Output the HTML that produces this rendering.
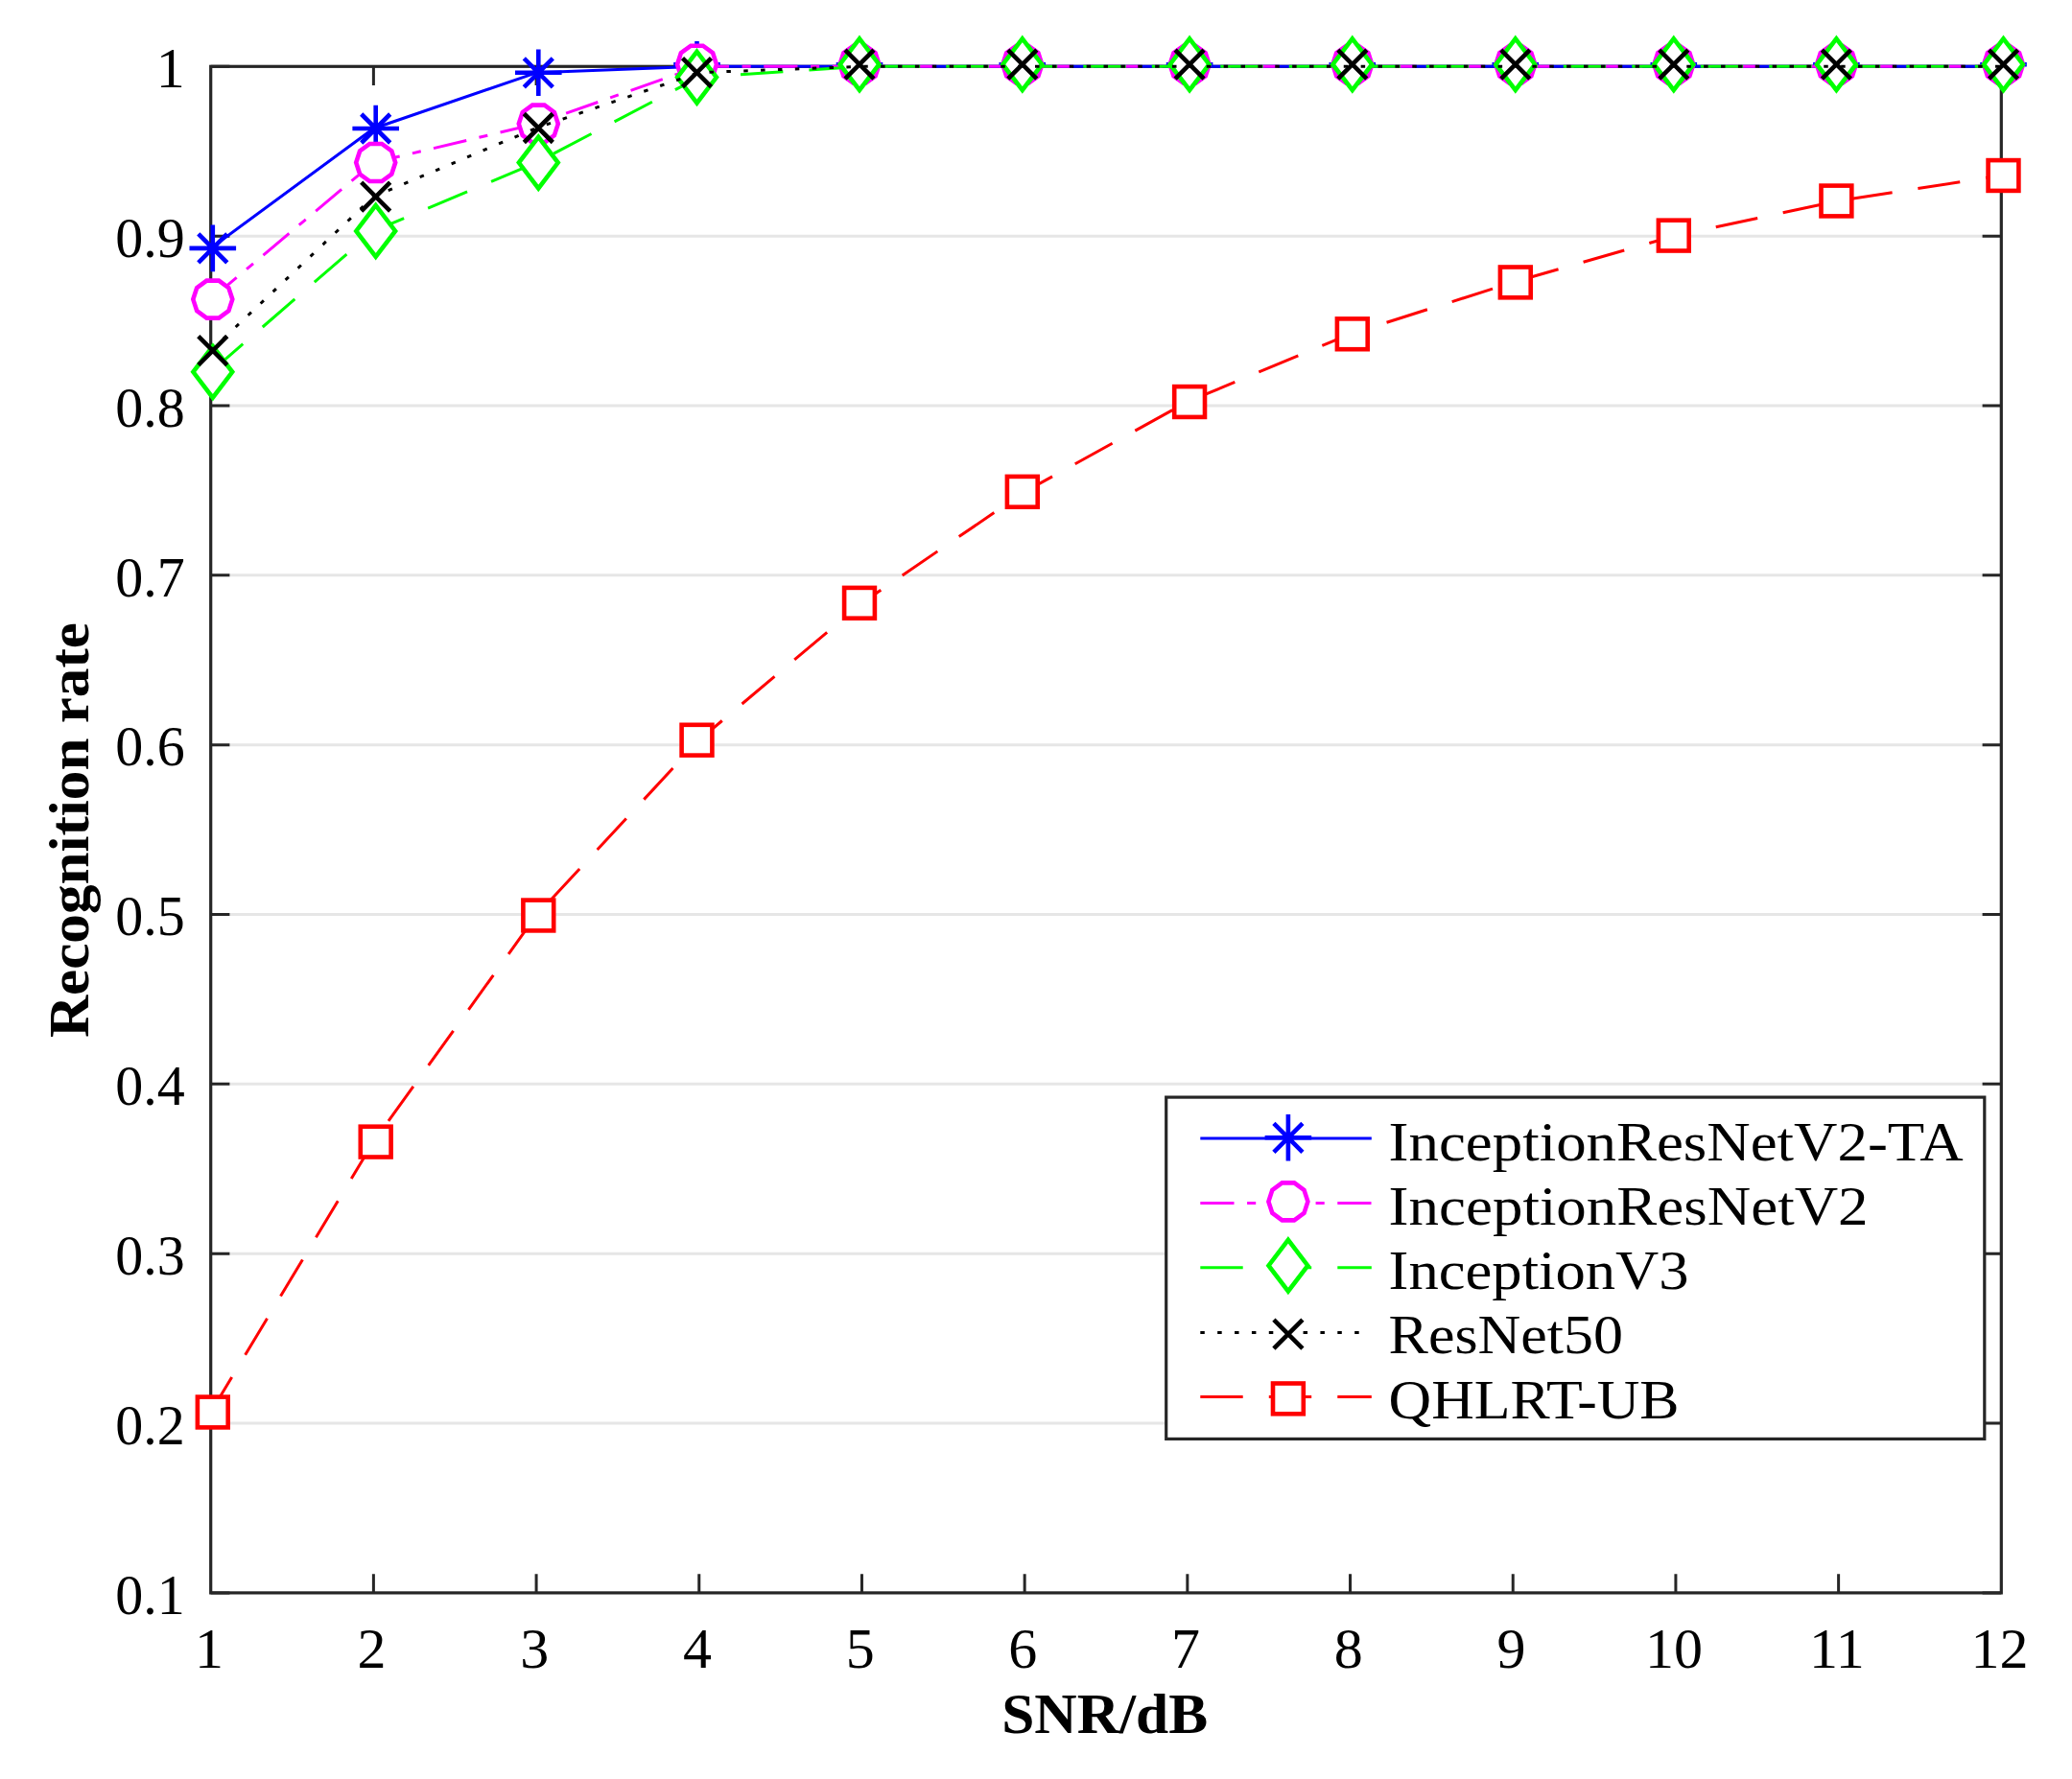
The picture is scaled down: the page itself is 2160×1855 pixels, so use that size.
<!DOCTYPE html>
<html lang="en"><head><meta charset="utf-8"><title>Recognition rate vs SNR</title>
<style>html,body{margin:0;padding:0;background:#fff}body{width:2160px;height:1855px;overflow:hidden}svg{display:block}text{font-family:"Liberation Serif","DejaVu Serif",serif;fill:#000}</style></head><body>
<svg width="2160" height="1855" viewBox="0 0 2160 1855">
<rect width="2160" height="1855" fill="#fff"/>
<g stroke="#e6e6e6" stroke-width="3">
<line x1="219.7" y1="246.14" x2="2086.3" y2="246.14"/>
<line x1="219.7" y1="422.99" x2="2086.3" y2="422.99"/>
<line x1="219.7" y1="599.83" x2="2086.3" y2="599.83"/>
<line x1="219.7" y1="776.68" x2="2086.3" y2="776.68"/>
<line x1="219.7" y1="953.52" x2="2086.3" y2="953.52"/>
<line x1="219.7" y1="1130.37" x2="2086.3" y2="1130.37"/>
<line x1="219.7" y1="1307.21" x2="2086.3" y2="1307.21"/>
<line x1="219.7" y1="1484.06" x2="2086.3" y2="1484.06"/>
</g>
<g stroke="#262626" stroke-width="3.2" fill="none">
<rect x="219.7" y="69.3" width="1866.6" height="1591.6"/>
<path stroke-width="3" d="M389.39 69.3v19.7M389.39 1660.9v-19.7M559.08 69.3v19.7M559.08 1660.9v-19.7M728.77 69.3v19.7M728.77 1660.9v-19.7M898.46 69.3v19.7M898.46 1660.9v-19.7M1068.15 69.3v19.7M1068.15 1660.9v-19.7M1237.85 69.3v19.7M1237.85 1660.9v-19.7M1407.54 69.3v19.7M1407.54 1660.9v-19.7M1577.23 69.3v19.7M1577.23 1660.9v-19.7M1746.92 69.3v19.7M1746.92 1660.9v-19.7M1916.61 69.3v19.7M1916.61 1660.9v-19.7M219.7 69.3h19.7M2086.3 69.3h-19.7M219.7 246.14h19.7M2086.3 246.14h-19.7M219.7 422.99h19.7M2086.3 422.99h-19.7M219.7 599.83h19.7M2086.3 599.83h-19.7M219.7 776.68h19.7M2086.3 776.68h-19.7M219.7 953.52h19.7M2086.3 953.52h-19.7M219.7 1130.37h19.7M2086.3 1130.37h-19.7M219.7 1307.21h19.7M2086.3 1307.21h-19.7M219.7 1484.06h19.7M2086.3 1484.06h-19.7M219.7 1660.9h19.7M2086.3 1660.9h-19.7"/>
</g>
<g font-size="60">
<text x="217.9" y="1738.5" text-anchor="middle">1</text>
<text x="387.59" y="1738.5" text-anchor="middle">2</text>
<text x="557.28" y="1738.5" text-anchor="middle">3</text>
<text x="726.97" y="1738.5" text-anchor="middle">4</text>
<text x="896.66" y="1738.5" text-anchor="middle">5</text>
<text x="1066.35" y="1738.5" text-anchor="middle">6</text>
<text x="1236.05" y="1738.5" text-anchor="middle">7</text>
<text x="1405.74" y="1738.5" text-anchor="middle">8</text>
<text x="1575.43" y="1738.5" text-anchor="middle">9</text>
<text x="1745.12" y="1738.5" text-anchor="middle">10</text>
<text x="1914.81" y="1738.5" text-anchor="middle">11</text>
<text x="2084.5" y="1738.5" text-anchor="middle">12</text>
<text x="192.7" y="91" text-anchor="end">1</text>
<text x="192.7" y="267.84" text-anchor="end" textLength="72.5" lengthAdjust="spacingAndGlyphs">0.9</text>
<text x="192.7" y="444.69" text-anchor="end" textLength="72.5" lengthAdjust="spacingAndGlyphs">0.8</text>
<text x="192.7" y="621.53" text-anchor="end" textLength="72.5" lengthAdjust="spacingAndGlyphs">0.7</text>
<text x="192.7" y="798.38" text-anchor="end" textLength="72.5" lengthAdjust="spacingAndGlyphs">0.6</text>
<text x="192.7" y="975.22" text-anchor="end" textLength="72.5" lengthAdjust="spacingAndGlyphs">0.5</text>
<text x="192.7" y="1152.07" text-anchor="end" textLength="72.5" lengthAdjust="spacingAndGlyphs">0.4</text>
<text x="192.7" y="1328.91" text-anchor="end" textLength="72.5" lengthAdjust="spacingAndGlyphs">0.3</text>
<text x="192.7" y="1505.76" text-anchor="end" textLength="72.5" lengthAdjust="spacingAndGlyphs">0.2</text>
<text x="192.7" y="1682.6" text-anchor="end" textLength="72.5" lengthAdjust="spacingAndGlyphs">0.1</text>
</g>
<text x="1151.7" y="1807.2" font-size="60" font-weight="bold" text-anchor="middle" textLength="215" lengthAdjust="spacingAndGlyphs">SNR/dB</text>
<text transform="translate(92.4 865.6) rotate(-90)" font-size="60" font-weight="bold" text-anchor="middle" textLength="433" lengthAdjust="spacingAndGlyphs">Recognition rate</text>
<g stroke-linecap="butt">
<polyline points="219.7,258.9 389.39,134 559.08,75.8 728.77,69.3 898.46,69.3 1068.15,69.3 1237.85,69.3 1407.54,69.3 1577.23,69.3 1746.92,69.3 1916.61,69.3 2086.3,69.3" stroke="#0000ff" stroke-width="3.0" fill="none" stroke-linejoin="round"/>
<path d="M221.8 234.6V283.2M197.5 258.9H246.1M206.8 243.9L236.8 273.9M206.8 273.9L236.8 243.9" stroke="#0000ff" stroke-width="4.6" fill="none"/>
<path d="M391.7 109.7V158.3M367.4 134H416M376.7 119L406.7 149M376.7 149L406.7 119" stroke="#0000ff" stroke-width="4.6" fill="none"/>
<path d="M561.3 51.5V100.1M537 75.8H585.6M546.3 60.8L576.3 90.8M546.3 90.8L576.3 60.8" stroke="#0000ff" stroke-width="4.6" fill="none"/>
<path d="M726.5 42.9V91.5M702.2 67.2H750.8M711.5 52.2L741.5 82.2M711.5 82.2L741.5 52.2" stroke="#0000ff" stroke-width="4.6" fill="none"/>
<path d="M896 42.9V91.5M871.7 67.2H920.3M881 52.2L911 82.2M881 82.2L911 52.2" stroke="#0000ff" stroke-width="4.6" fill="none"/>
<path d="M1065.8 42.9V91.5M1041.5 67.2H1090.1M1050.8 52.2L1080.8 82.2M1050.8 82.2L1080.8 52.2" stroke="#0000ff" stroke-width="4.6" fill="none"/>
<path d="M1240.1 42.9V91.5M1215.8 67.2H1264.4M1225.1 52.2L1255.1 82.2M1225.1 82.2L1255.1 52.2" stroke="#0000ff" stroke-width="4.6" fill="none"/>
<path d="M1409.8 42.9V91.5M1385.5 67.2H1434.1M1394.8 52.2L1424.8 82.2M1394.8 82.2L1424.8 52.2" stroke="#0000ff" stroke-width="4.6" fill="none"/>
<path d="M1579.8 42.9V91.5M1555.5 67.2H1604.1M1564.8 52.2L1594.8 82.2M1564.8 82.2L1594.8 52.2" stroke="#0000ff" stroke-width="4.6" fill="none"/>
<path d="M1744.8 42.9V91.5M1720.5 67.2H1769.1M1729.8 52.2L1759.8 82.2M1729.8 82.2L1759.8 52.2" stroke="#0000ff" stroke-width="4.6" fill="none"/>
<path d="M1914.4 42.9V91.5M1890.1 67.2H1938.7M1899.4 52.2L1929.4 82.2M1899.4 82.2L1929.4 52.2" stroke="#0000ff" stroke-width="4.6" fill="none"/>
<path d="M2088.5 42.9V91.5M2064.2 67.2H2112.8M2073.5 52.2L2103.5 82.2M2073.5 82.2L2103.5 52.2" stroke="#0000ff" stroke-width="4.6" fill="none"/>
<polyline points="219.7,312.1 389.39,169.5 559.08,129.1 728.77,69.3 898.46,69.3 1068.15,69.3 1237.85,69.3 1407.54,69.3 1577.23,69.3 1746.92,69.3 1916.61,69.3 2086.3,69.3" stroke="#ff00ff" stroke-width="3.0" fill="none" stroke-linejoin="round" stroke-dasharray="35.2 13.6 9.1 13.6" stroke-dashoffset="0"/>
<polygon points="242.3,312.1 238.38,324.15 228.13,331.6 215.47,331.6 205.22,324.15 201.3,312.1 205.22,300.05 215.47,292.6 228.13,292.6 238.38,300.05" stroke="#ff00ff" stroke-width="4.6" fill="#fff" stroke-linejoin="miter"/>
<polygon points="412.2,169.5 408.28,181.55 398.03,189 385.37,189 375.12,181.55 371.2,169.5 375.12,157.45 385.37,150 398.03,150 408.28,157.45" stroke="#ff00ff" stroke-width="4.6" fill="#fff" stroke-linejoin="miter"/>
<polygon points="581.8,129.1 577.88,141.15 567.63,148.6 554.97,148.6 544.72,141.15 540.8,129.1 544.72,117.05 554.97,109.6 567.63,109.6 577.88,117.05" stroke="#ff00ff" stroke-width="4.6" fill="#fff" stroke-linejoin="miter"/>
<polygon points="747,67.2 743.08,79.25 732.83,86.7 720.17,86.7 709.92,79.25 706,67.2 709.92,55.15 720.17,47.7 732.83,47.7 743.08,55.15" stroke="#ff00ff" stroke-width="4.6" fill="#fff" stroke-linejoin="miter"/>
<polygon points="916.5,67.2 912.58,79.25 902.33,86.7 889.67,86.7 879.42,79.25 875.5,67.2 879.42,55.15 889.67,47.7 902.33,47.7 912.58,55.15" stroke="#ff00ff" stroke-width="4.6" fill="#fff" stroke-linejoin="miter"/>
<polygon points="1086.3,67.2 1082.38,79.25 1072.13,86.7 1059.47,86.7 1049.22,79.25 1045.3,67.2 1049.22,55.15 1059.47,47.7 1072.13,47.7 1082.38,55.15" stroke="#ff00ff" stroke-width="4.6" fill="#fff" stroke-linejoin="miter"/>
<polygon points="1260.6,67.2 1256.68,79.25 1246.43,86.7 1233.77,86.7 1223.52,79.25 1219.6,67.2 1223.52,55.15 1233.77,47.7 1246.43,47.7 1256.68,55.15" stroke="#ff00ff" stroke-width="4.6" fill="#fff" stroke-linejoin="miter"/>
<polygon points="1430.3,67.2 1426.38,79.25 1416.13,86.7 1403.47,86.7 1393.22,79.25 1389.3,67.2 1393.22,55.15 1403.47,47.7 1416.13,47.7 1426.38,55.15" stroke="#ff00ff" stroke-width="4.6" fill="#fff" stroke-linejoin="miter"/>
<polygon points="1600.3,67.2 1596.38,79.25 1586.13,86.7 1573.47,86.7 1563.22,79.25 1559.3,67.2 1563.22,55.15 1573.47,47.7 1586.13,47.7 1596.38,55.15" stroke="#ff00ff" stroke-width="4.6" fill="#fff" stroke-linejoin="miter"/>
<polygon points="1765.3,67.2 1761.38,79.25 1751.13,86.7 1738.47,86.7 1728.22,79.25 1724.3,67.2 1728.22,55.15 1738.47,47.7 1751.13,47.7 1761.38,55.15" stroke="#ff00ff" stroke-width="4.6" fill="#fff" stroke-linejoin="miter"/>
<polygon points="1934.9,67.2 1930.98,79.25 1920.73,86.7 1908.07,86.7 1897.82,79.25 1893.9,67.2 1897.82,55.15 1908.07,47.7 1920.73,47.7 1930.98,55.15" stroke="#ff00ff" stroke-width="4.6" fill="#fff" stroke-linejoin="miter"/>
<polygon points="2109,67.2 2105.08,79.25 2094.83,86.7 2082.17,86.7 2071.92,79.25 2068,67.2 2071.92,55.15 2082.17,47.7 2094.83,47.7 2105.08,55.15" stroke="#ff00ff" stroke-width="4.6" fill="#fff" stroke-linejoin="miter"/>
<polyline points="219.7,387.8 389.39,240.9 559.08,169.6 728.77,80.6 898.46,69.3 1068.15,69.3 1237.85,69.3 1407.54,69.3 1577.23,69.3 1746.92,69.3 1916.61,69.3 2086.3,69.3" stroke="#00ff00" stroke-width="3.0" fill="none" stroke-linejoin="round" stroke-dasharray="44.4 27.1" stroke-dashoffset="0"/>
<polygon points="221.8,361 242.2,387.8 221.8,414.6 201.4,387.8" stroke="#00ff00" stroke-width="4.6" fill="#fff" stroke-linejoin="miter" stroke-miterlimit="10"/>
<polygon points="391.7,214.1 412.1,240.9 391.7,267.7 371.3,240.9" stroke="#00ff00" stroke-width="4.6" fill="#fff" stroke-linejoin="miter" stroke-miterlimit="10"/>
<polygon points="561.3,142.8 581.7,169.6 561.3,196.4 540.9,169.6" stroke="#00ff00" stroke-width="4.6" fill="#fff" stroke-linejoin="miter" stroke-miterlimit="10"/>
<polygon points="726.5,53.8 746.9,80.6 726.5,107.4 706.1,80.6" stroke="#00ff00" stroke-width="4.6" fill="#fff" stroke-linejoin="miter" stroke-miterlimit="10"/>
<polygon points="896,40.4 916.4,67.2 896,94 875.6,67.2" stroke="#00ff00" stroke-width="4.6" fill="#fff" stroke-linejoin="miter" stroke-miterlimit="10"/>
<polygon points="1065.8,40.4 1086.2,67.2 1065.8,94 1045.4,67.2" stroke="#00ff00" stroke-width="4.6" fill="#fff" stroke-linejoin="miter" stroke-miterlimit="10"/>
<polygon points="1240.1,40.4 1260.5,67.2 1240.1,94 1219.7,67.2" stroke="#00ff00" stroke-width="4.6" fill="#fff" stroke-linejoin="miter" stroke-miterlimit="10"/>
<polygon points="1409.8,40.4 1430.2,67.2 1409.8,94 1389.4,67.2" stroke="#00ff00" stroke-width="4.6" fill="#fff" stroke-linejoin="miter" stroke-miterlimit="10"/>
<polygon points="1579.8,40.4 1600.2,67.2 1579.8,94 1559.4,67.2" stroke="#00ff00" stroke-width="4.6" fill="#fff" stroke-linejoin="miter" stroke-miterlimit="10"/>
<polygon points="1744.8,40.4 1765.2,67.2 1744.8,94 1724.4,67.2" stroke="#00ff00" stroke-width="4.6" fill="#fff" stroke-linejoin="miter" stroke-miterlimit="10"/>
<polygon points="1914.4,40.4 1934.8,67.2 1914.4,94 1894,67.2" stroke="#00ff00" stroke-width="4.6" fill="#fff" stroke-linejoin="miter" stroke-miterlimit="10"/>
<polygon points="2088.5,40.4 2108.9,67.2 2088.5,94 2068.1,67.2" stroke="#00ff00" stroke-width="4.6" fill="#fff" stroke-linejoin="miter" stroke-miterlimit="10"/>
<polyline points="219.7,365.6 389.39,205.1 559.08,133.5 728.77,75.7 898.46,69.3 1068.15,69.3 1237.85,69.3 1407.54,69.3 1577.23,69.3 1746.92,69.3 1916.61,69.3 2086.3,69.3" stroke="#000000" stroke-width="3.0" fill="none" stroke-linejoin="round" stroke-dasharray="4.5 13.375" stroke-dashoffset="0"/>
<path d="M206.8 350.6L236.8 380.6M206.8 380.6L236.8 350.6" stroke="#000000" stroke-width="4.6" fill="none"/>
<path d="M376.7 190.1L406.7 220.1M376.7 220.1L406.7 190.1" stroke="#000000" stroke-width="4.6" fill="none"/>
<path d="M546.3 118.5L576.3 148.5M546.3 148.5L576.3 118.5" stroke="#000000" stroke-width="4.6" fill="none"/>
<path d="M711.5 60.7L741.5 90.7M711.5 90.7L741.5 60.7" stroke="#000000" stroke-width="4.6" fill="none"/>
<path d="M881 52.2L911 82.2M881 82.2L911 52.2" stroke="#000000" stroke-width="4.6" fill="none"/>
<path d="M1050.8 52.2L1080.8 82.2M1050.8 82.2L1080.8 52.2" stroke="#000000" stroke-width="4.6" fill="none"/>
<path d="M1225.1 52.2L1255.1 82.2M1225.1 82.2L1255.1 52.2" stroke="#000000" stroke-width="4.6" fill="none"/>
<path d="M1394.8 52.2L1424.8 82.2M1394.8 82.2L1424.8 52.2" stroke="#000000" stroke-width="4.6" fill="none"/>
<path d="M1564.8 52.2L1594.8 82.2M1564.8 82.2L1594.8 52.2" stroke="#000000" stroke-width="4.6" fill="none"/>
<path d="M1729.8 52.2L1759.8 82.2M1729.8 82.2L1759.8 52.2" stroke="#000000" stroke-width="4.6" fill="none"/>
<path d="M1899.4 52.2L1929.4 82.2M1899.4 82.2L1929.4 52.2" stroke="#000000" stroke-width="4.6" fill="none"/>
<path d="M2073.5 52.2L2103.5 82.2M2073.5 82.2L2103.5 52.2" stroke="#000000" stroke-width="4.6" fill="none"/>
<polyline points="219.7,1472.5 389.39,1190.6 559.08,954.5 728.77,771.7 898.46,628.8 1068.15,512.8 1237.85,419 1407.54,348.3 1577.23,294.4 1746.92,245.6 1916.61,209.5 2086.3,183" stroke="#ff0000" stroke-width="3.0" fill="none" stroke-linejoin="round" stroke-dasharray="44.4 27.1" stroke-dashoffset="1.8"/>
<rect x="205.9" y="1456.6" width="31.8" height="31.8" stroke="#ff0000" stroke-width="4.6" fill="#fff"/>
<rect x="375.8" y="1174.7" width="31.8" height="31.8" stroke="#ff0000" stroke-width="4.6" fill="#fff"/>
<rect x="545.4" y="938.6" width="31.8" height="31.8" stroke="#ff0000" stroke-width="4.6" fill="#fff"/>
<rect x="710.6" y="755.8" width="31.8" height="31.8" stroke="#ff0000" stroke-width="4.6" fill="#fff"/>
<rect x="880.1" y="612.9" width="31.8" height="31.8" stroke="#ff0000" stroke-width="4.6" fill="#fff"/>
<rect x="1049.9" y="496.9" width="31.8" height="31.8" stroke="#ff0000" stroke-width="4.6" fill="#fff"/>
<rect x="1224.2" y="403.1" width="31.8" height="31.8" stroke="#ff0000" stroke-width="4.6" fill="#fff"/>
<rect x="1393.9" y="332.4" width="31.8" height="31.8" stroke="#ff0000" stroke-width="4.6" fill="#fff"/>
<rect x="1563.9" y="278.5" width="31.8" height="31.8" stroke="#ff0000" stroke-width="4.6" fill="#fff"/>
<rect x="1728.9" y="229.7" width="31.8" height="31.8" stroke="#ff0000" stroke-width="4.6" fill="#fff"/>
<rect x="1898.5" y="193.6" width="31.8" height="31.8" stroke="#ff0000" stroke-width="4.6" fill="#fff"/>
<rect x="2072.6" y="167.1" width="31.8" height="31.8" stroke="#ff0000" stroke-width="4.6" fill="#fff"/>
</g>
<rect x="1215.7" y="1144.1" width="853.1" height="356.3" fill="#fff" stroke="#262626" stroke-width="3.2"/>
<line x1="1251.3" y1="1187.1" x2="1429.8" y2="1187.1" stroke="#0000ff" stroke-width="3.0"/>
<path d="M1342.9 1162V1210.6M1318.6 1186.3H1367.2M1327.9 1171.3L1357.9 1201.3M1327.9 1201.3L1357.9 1171.3" stroke="#0000ff" stroke-width="4.6" fill="none"/>
<line x1="1251.3" y1="1254.5" x2="1429.8" y2="1254.5" stroke="#ff00ff" stroke-width="3.0" stroke-dasharray="35.2 13.6 9.1 13.6"/>
<polygon points="1363.4,1252.9 1359.48,1264.95 1349.23,1272.4 1336.57,1272.4 1326.32,1264.95 1322.4,1252.9 1326.32,1240.85 1336.57,1233.4 1349.23,1233.4 1359.48,1240.85" stroke="#ff00ff" stroke-width="4.6" fill="#fff" stroke-linejoin="miter"/>
<line x1="1251.3" y1="1321.8" x2="1429.8" y2="1321.8" stroke="#00ff00" stroke-width="3.0" stroke-dasharray="44.4 27.1"/>
<polygon points="1342.9,1292.9 1363.3,1319.7 1342.9,1346.5 1322.5,1319.7" stroke="#00ff00" stroke-width="4.6" fill="#fff" stroke-linejoin="miter" stroke-miterlimit="10"/>
<line x1="1251.3" y1="1389.5" x2="1429.8" y2="1389.5" stroke="#000000" stroke-width="3.0" stroke-dasharray="4.5 13.375"/>
<path d="M1327.9 1376.2L1357.9 1406.2M1327.9 1406.2L1357.9 1376.2" stroke="#000000" stroke-width="4.6" fill="none"/>
<line x1="1251.3" y1="1456.4" x2="1429.8" y2="1456.4" stroke="#ff0000" stroke-width="3.0" stroke-dasharray="44.4 27.1"/>
<rect x="1327" y="1442.5" width="31.8" height="31.8" stroke="#ff0000" stroke-width="4.6" fill="#fff"/>
<g font-size="58">
<text x="1447.6" y="1209.8" textLength="599" lengthAdjust="spacingAndGlyphs">InceptionResNetV2-TA</text>
<text x="1447.6" y="1277" textLength="500" lengthAdjust="spacingAndGlyphs">InceptionResNetV2</text>
<text x="1447.6" y="1344.2" textLength="313" lengthAdjust="spacingAndGlyphs">InceptionV3</text>
<text x="1447.6" y="1411.4" textLength="244.5" lengthAdjust="spacingAndGlyphs">ResNet50</text>
<text x="1447.6" y="1478.6" textLength="303" lengthAdjust="spacingAndGlyphs">QHLRT-UB</text>
</g>
</svg></body></html>
